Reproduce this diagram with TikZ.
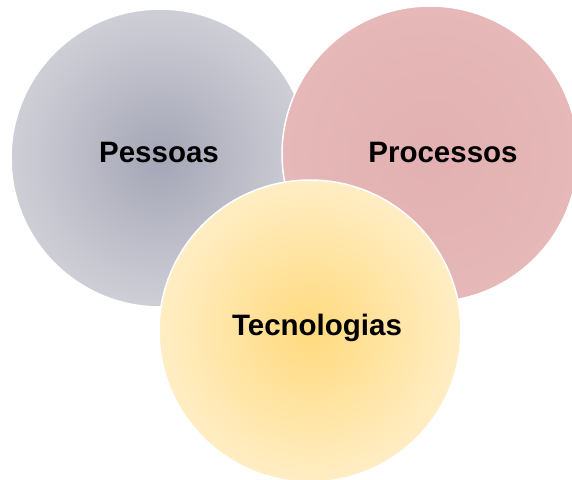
\documentclass[tikz,border=0pt]{standalone}
\usepackage{fontspec}
\setmainfont{Liberation Sans}
\usepackage{tikz}
\usetikzlibrary{positioning, calc}
\definecolor{cGrayIn}{RGB}{165,166,182}
\definecolor{cGrayOut}{RGB}{206,207,214}
\definecolor{cRoseIn}{RGB}{226,176,177}
\definecolor{cRoseOut}{RGB}{230,184,184}
\definecolor{cSunIn}{RGB}{255,218,126}
\definecolor{cSunOut}{RGB}{255,237,196}
\tikzset{
	bubble/.style  ={circle, draw=white, line width=1.5pt, inner sep=0pt, shading=radial},
	lbl/.style     ={font=\fontsize{29.5}{34}\selectfont\bfseries, text=black, anchor=base, inner sep=0pt},
}
\begin{document}
\begin{tikzpicture}[x=1pt, y=-1pt]
	\useasboundingbox (0,0) rectangle (572,479);
	% three overlapping circles, back to front
	\node[bubble, minimum size=298pt, inner color=cGrayIn, outer color=cGrayOut] (pessoas) at (160,158) {};
	\node[bubble, minimum size=296pt, inner color=cRoseIn, outer color=cRoseOut] (processos) at (430,154) {};
	\node[bubble, minimum size=302pt, inner color=cSunIn, outer color=cSunOut] (tecnologias) at (310,331) {};
	% labels
	\node[lbl] (pessoasTxt) at (159,162) {Pessoas};
	\node[lbl] (processosTxt) at (443,162) {Processos};
	\node[lbl] (tecnologiasTxt) at (317,335) {Tecnologias};
\end{tikzpicture}
\end{document}
